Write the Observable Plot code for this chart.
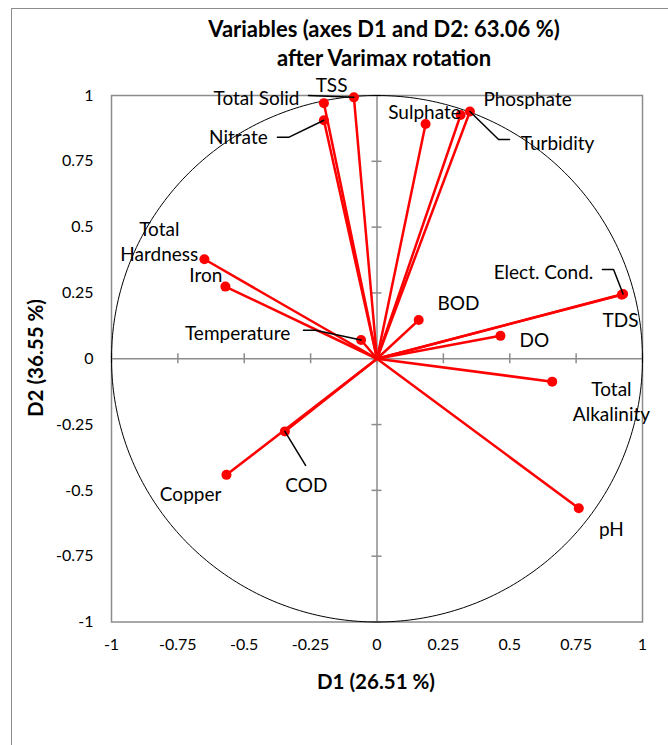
<!DOCTYPE html>
<html>
<head>
<meta charset="utf-8">
<script src="https://cdn.jsdelivr.net/npm/d3@7"></script>
<script src="https://cdn.jsdelivr.net/npm/@observablehq/plot@0.6"></script>
<style>
  html, body { margin: 0; padding: 0; background: #fff; }
  #wrap { position: relative; width: 668px; height: 745px; overflow: hidden; font-family: Lato, "Open Sans", sans-serif; }
  #border { position: absolute; left: 11px; top: 8px; width: 800px; height: 900px; border-left: 1.5px solid #8c8c8c; border-top: 1.5px solid #8c8c8c; }
  #chart { position: absolute; left: 0; top: 0; }
  .title { position: absolute; left: 0; width: 768px; text-align: center; font-weight: bold; font-size: 22px; line-height: 1; color: #000; white-space: nowrap; transform: translateY(-50%); }
  .axt { position: absolute; font-weight: bold; font-size: 20.5px; line-height: 1; color: #000; white-space: nowrap; }
</style>
</head>
<body>
<div id="wrap">
  <div id="border"></div>
  <div id="chart"></div>
  <div class="title" style="top:29px;">Variables (axes D1 and D2: 63.06 %)</div>
  <div class="title" style="top:58px;">after Varimax rotation</div>
  <div class="axt" id="xt" style="left:376px; top:681px; transform:translate(-50%,-50%);">D1 (26.51 %)</div>
  <div class="axt" id="yt" style="left:35px; top:358px; transform:translate(-50%,-50%) rotate(-90deg);">D2 (36.55 %)</div>
</div>
<script>
// ---- data ----
const variables = ["Total Solid","TSS","Nitrate","Sulphate","Phosphate","Turbidity","Total Hardness","Iron","Temperature","Elect. Cond.","TDS","BOD","DO","Total Alkalinity","COD","Copper","pH"];
const d1 = [-0.087,-0.200,-0.200,0.183,0.315,0.350,-0.650,-0.571,-0.060,0.927,0.922,0.157,0.465,0.660,-0.347,-0.567,0.760];
const d2 = [0.993,0.971,0.906,0.892,0.926,0.939,0.378,0.274,0.071,0.246,0.243,0.147,0.087,-0.087,-0.276,-0.441,-0.568];
const labelText = ["Total Solid","TSS","Nitrate","Sulphate","Phosphate","Turbidity","Total\nHardness","Iron","Temperature","Elect. Cond.","TDS","BOD","DO","Total\nAlkalinity","COD","Copper","pH"];
const labelX = [-0.454,-0.171,-0.522,0.179,0.567,0.680,-0.820,-0.645,-0.525,0.627,0.917,0.307,0.593,0.883,-0.266,-0.702,0.883];
const labelY = [0.996,1.042,0.845,0.943,0.989,0.825,0.448,0.322,0.100,0.335,0.153,0.214,0.077,-0.158,-0.474,-0.508,-0.641];
// leader lines: label-side waypoints (ending at the variable's point)
const leaderVar = ["Total Solid","Nitrate","Nitrate","Turbidity","Turbidity","Temperature","Temperature","Elect. Cond.","Elect. Cond.","COD"];
const leaderX = [-0.258,-0.375,-0.333,0.499,0.458,-0.277,-0.232,0.849,0.891,-0.269];
const leaderY = [1.0,0.841,0.841,0.833,0.833,0.108,0.108,0.339,0.339,-0.405];
const ticks = [-1,-0.75,-0.5,-0.25,0,0.25,0.5,0.75,1];

// ---- build tables ----
const pts = variables.map((v,i) => ({name: v, x: d1[i], y: d2[i]}));
const labs = labelText.map((t,i) => ({text: t, x: labelX[i], y: labelY[i]}));
const leaders = [];
leaderVar.forEach((v,i) => leaders.push({g: v, order: i, x: leaderX[i], y: leaderY[i]}));
[...new Set(leaderVar)].forEach(v => { const i = variables.indexOf(v); leaders.push({g: v, order: 100, x: d1[i], y: d2[i]}); });
leaders.sort((a,b) => a.g === b.g ? a.order - b.order : 0);
const rays = [];
pts.forEach(p => { rays.push({g: p.name, x: 0, y: 0}); rays.push({g: p.name, x: p.x, y: p.y}); });
const circle = d3.range(0, 361).map(a => ({x: Math.cos(a*Math.PI/180), y: Math.sin(a*Math.PI/180)}));
const fmt = d => String(d);

const chart = Plot.plot({
  width: 668,
  height: 745,
  marginLeft: 111,
  marginRight: 26,
  marginTop: 95,
  marginBottom: 123.5,
  style: {fontFamily: "Lato, 'Open Sans', sans-serif", fontSize: "16px", background: "transparent", color: "#000", overflow: "visible"},
  x: {domain: [-1, 1]},
  y: {domain: [-1, 1]},
  marks: [
    Plot.ruleX([0], {y1: -1, y2: 1, stroke: "#8c8c8c", strokeWidth: 1.5}),
    Plot.ruleY([0], {x1: -1, x2: 1, stroke: "#8c8c8c", strokeWidth: 1.5}),
    Plot.ruleX(ticks, {x: d => d, y1: 0, y2: 0, insetTop: -5, insetBottom: -5, stroke: "#8c8c8c", strokeWidth: 1.5}),
    Plot.ruleY(ticks, {y: d => d, x1: 0, x2: 0, insetLeft: -5, insetRight: -5, stroke: "#8c8c8c", strokeWidth: 1.5}),
    Plot.frame({stroke: "#8c8c8c", strokeWidth: 1.5}),
    Plot.line(circle, {x: "x", y: "y", stroke: "#000", strokeWidth: 1}),
    Plot.axisX({ticks, tickFormat: fmt, tickSize: 0, tickPadding: 17, label: null, fontSize: 16}),
    Plot.axisY({ticks, tickFormat: fmt, tickSize: 0, tickPadding: 18, label: null, fontSize: 16}),
    Plot.line(rays, {x: "x", y: "y", z: "g", stroke: "#ff0000", strokeWidth: 2.5}),
    Plot.dot(pts, {x: "x", y: "y", r: 5, fill: "#ff0000", stroke: "none"}),
    Plot.line(leaders, {x: "x", y: "y", z: "g", stroke: "#000", strokeWidth: 1.5}),
    Plot.text(labs, {x: "x", y: "y", text: "text", fontSize: 19, fill: "#000", lineHeight: 1.32, lineAnchor: "middle", textAnchor: "middle"})
  ]
});
document.getElementById("chart").appendChild(chart);
</script>
</body>
</html>
